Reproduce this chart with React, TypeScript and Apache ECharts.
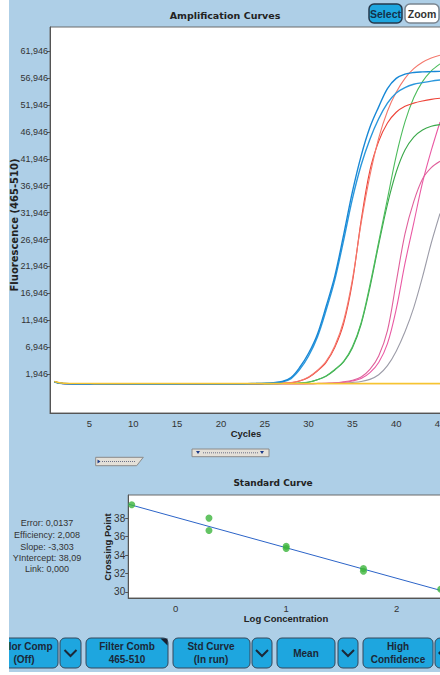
import React, { useEffect, useRef } from 'react';
import * as echarts from 'echarts';

// ---------- Data ----------
const cycles = [1, 2, 3, 4, 5, 6, 7, 8, 9, 10, 11, 12, 13, 14, 15, 16, 17, 18, 19, 20, 21, 22, 23, 24, 25, 26, 27, 28, 29, 30, 31, 32, 33, 34, 35, 36, 37, 38, 39, 40, 41, 42, 43, 44, 45];

const blueA = [480, 170, 150, 140, 130, 130, 120, 120, 120, 110, 110, 110, 110, 110, 110, 110, 110, 120, 120, 120, 130, 140, 160, 190, 240, 330, 560, 1300, 3200, 5800, 9300, 14500, 20200, 27800, 35800, 42500, 47800, 51600, 55000, 56900, 57700, 58000, 58100, 58150, 58200];
const blueB = [470, 160, 140, 130, 120, 120, 110, 110, 110, 100, 100, 100, 100, 100, 100, 110, 110, 110, 110, 120, 120, 130, 150, 170, 210, 290, 480, 1100, 2800, 5300, 8800, 13800, 19500, 26800, 34500, 40800, 45600, 49400, 52300, 54200, 55200, 55800, 56100, 56400, 56600];
const redA = [520, 180, 160, 150, 140, 140, 130, 130, 130, 120, 120, 120, 120, 120, 120, 120, 130, 130, 130, 130, 140, 140, 150, 160, 180, 210, 260, 350, 700, 1400, 2600, 4300, 7200, 11800, 19500, 30000, 38800, 45800, 50800, 54300, 56900, 58700, 59900, 60700, 61200];
const redB = [500, 170, 150, 140, 130, 130, 130, 120, 120, 120, 120, 110, 110, 110, 120, 120, 120, 120, 130, 130, 130, 140, 140, 150, 170, 200, 250, 330, 660, 1300, 2500, 4100, 6900, 11300, 19000, 30500, 39800, 45200, 48600, 50600, 51700, 52300, 52700, 53000, 53200];
const greenA = [510, 180, 150, 140, 140, 130, 130, 130, 120, 120, 120, 120, 120, 120, 120, 120, 120, 130, 130, 130, 130, 140, 140, 150, 160, 170, 185, 200, 260, 450, 900, 1600, 2800, 4300, 7000, 11500, 18500, 26500, 34500, 42500, 48800, 53300, 56300, 58300, 59600];
const greenB = [490, 170, 150, 140, 130, 130, 120, 120, 120, 120, 110, 110, 110, 110, 110, 120, 120, 120, 120, 120, 130, 130, 140, 140, 150, 160, 175, 190, 250, 430, 870, 1550, 2700, 4200, 6800, 11200, 18000, 26000, 33500, 39500, 43600, 46000, 47300, 48000, 48300];
const pinkA = [500, 170, 150, 140, 130, 130, 130, 120, 120, 120, 120, 120, 120, 120, 120, 120, 120, 120, 120, 130, 130, 130, 130, 140, 140, 140, 145, 150, 160, 180, 200, 240, 300, 500, 800, 1400, 2800, 5300, 10000, 19000, 28000, 34000, 38200, 40300, 41500];
const pinkB = [480, 160, 140, 130, 130, 120, 120, 120, 120, 110, 110, 110, 110, 110, 110, 110, 120, 120, 120, 120, 120, 120, 130, 130, 130, 135, 138, 140, 150, 160, 180, 210, 260, 400, 650, 1100, 2200, 4100, 7600, 14000, 22500, 30000, 37500, 43500, 48800];
const grayC = [470, 160, 140, 130, 120, 120, 120, 110, 110, 110, 110, 110, 110, 110, 110, 110, 110, 110, 120, 120, 120, 120, 120, 125, 130, 130, 135, 140, 150, 160, 170, 190, 220, 280, 380, 550, 950, 1800, 3500, 6200, 9800, 14300, 20000, 26300, 31800];
const orangeNeg = [520, 190, 170, 160, 150, 150, 150, 140, 140, 140, 140, 140, 140, 140, 140, 140, 140, 140, 140, 140, 140, 140, 140, 140, 140, 140, 140, 140, 140, 140, 140, 140, 140, 140, 140, 140, 140, 140, 140, 140, 140, 140, 140, 140, 140];
const yellowNeg = [560, 230, 210, 200, 200, 190, 190, 190, 190, 190, 190, 190, 190, 190, 190, 190, 190, 190, 190, 190, 190, 190, 190, 190, 190, 190, 190, 190, 190, 190, 190, 190, 190, 190, 190, 190, 190, 190, 190, 190, 190, 190, 190, 190, 190];

const ampYTickValues = [1946, 6946, 11946, 16946, 21946, 26946, 31946, 36946, 41946, 46946, 51946, 56946, 61946];
const ampXTickValues = [5, 10, 15, 20, 25, 30, 35, 40, 45];

const stdLogConc = [-0.398, 0.301, 0.301, 1.0, 1.0, 1.699, 1.699, 2.398];
const stdCrossingPoint = [39.45, 38.0, 36.65, 34.95, 34.7, 32.55, 32.25, 30.3];
const stdYTickValues = [30, 32, 34, 36, 38];
const stdXTickValues = [0, 1, 2];
const fitSlope = -3.303;
const fitIntercept = 38.09;
const statsLines = ['Error: 0,0137', 'Efficiency: 2,008', 'Slope: -3,303', 'YIntercept: 38,09', 'Link: 0,000'];

// ---------- Styles ----------
const SANS = "'Liberation Sans', Arial, sans-serif";
const PANEL = '#aecfe7';
const BTN = '#1ea6df';
const DARK = '#1b2838';

const AMP_X_MIN = 0.5, AMP_X_MAX = 46;
const AMP_Y_MIN = -5300, AMP_Y_MAX = 66450;
const STD_X_MIN = -0.43, STD_X_MAX = 2.516;
const STD_Y_MIN = 29.35, STD_Y_MAX = 40.5;

function buildOption() {
  const curves: [number[], string, number][] = [
    [orangeNeg, '#f2a23a', 1.2],
    [grayC, '#9c9ca8', 1.1],
    [pinkB, '#ea5aa4', 1.1],
    [pinkA, '#e0609c', 1.1],
    [greenB, '#3aa84a', 1.1],
    [greenA, '#4cbc5c', 1.1],
    [redB, '#ee4338', 1.1],
    [redA, '#f4786c', 1.1],
    [blueB, '#2a97dc', 1.4],
    [blueA, '#1888d6', 1.4],
    [yellowNeg, '#f6c530', 1.4],
  ];
  const ampSeries = curves.map(([vals, color, width], i) => ({
    type: 'line',
    xAxisIndex: 0,
    yAxisIndex: 0,
    data: cycles.map((c, k) => [c, vals[k]]),
    smooth: 0.35,
    symbol: 'none',
    showSymbol: false,
    silent: true,
    z: 2 + i * 0.01,
    lineStyle: { color, width },
  }));

  const minorTicks: number[] = [];
  for (let v = ampYTickValues[0] - 7000; v < AMP_Y_MAX; v += 1000) {
    if (!ampYTickValues.includes(v)) minorTicks.push(v);
  }

  const fitLine = [STD_X_MIN, STD_X_MAX].map((x) => [x, fitIntercept + fitSlope * x]);

  const txt = (x: number, y: number, text: string, font: string, extra: any = {}) => ({
    type: 'text',
    x,
    y,
    silent: true,
    ...extra,
    style: { text, font, fill: extra.fill || DARK, textAlign: 'center', textVerticalAlign: 'middle', lineHeight: extra.lineHeight || 12 },
  });

  const chevron = (x: number, w: number) => {
    const cx = x + w / 2, cy = 653;
    return [
      { type: 'rect', shape: { x, y: 638, width: w, height: 30, r: 5 }, style: { fill: BTN, stroke: '#34475a', lineWidth: 1 } },
      { type: 'polyline', shape: { points: [[cx - 6, cy - 3], [cx, cy + 3], [cx + 6, cy - 3]] }, style: { stroke: DARK, lineWidth: 2, fill: null } },
    ];
  };
  const button = (x: number, w: number, label: string, cx: number) => [
    { type: 'rect', shape: { x, y: 638, width: w, height: 30, r: 5 }, style: { fill: BTN, stroke: '#34475a', lineWidth: 1 } },
    { type: 'text', x: cx, y: 653, silent: true, style: { text: label, font: `bold 10px ${SANS}`, fill: DARK, textAlign: 'center', textVerticalAlign: 'middle', lineHeight: 12.6 } },
  ];

  const graphics: any[] = [
    // Titles
    txt(216, 15, 'Amplification Curves', "bold 9.5px 'DejaVu Sans'", { fill: '#222' }),
    txt(264, 483, 'Standard Curve', "bold 9px 'DejaVu Sans'", { fill: '#222' }),
    txt(5.5, 225, 'Fluorescence (465-510)', "bold 10px 'DejaVu Sans'", { rotation: Math.PI / 2, fill: '#222' }),
    txt(237, 433.5, 'Cycles', `bold 9.5px ${SANS}`, { fill: '#222' }),
    txt(277, 618.5, 'Log Concentration', `bold 9.5px ${SANS}`, { fill: '#222' }),
    txt(98.5, 547, 'Crossing Point', `bold 9.5px ${SANS}`, { rotation: Math.PI / 2, fill: '#222' }),
    // Stats
    ...statsLines.map((s, i) => txt(38, [523, 535, 547, 558, 569][i], s, `9px ${SANS}`, { fill: '#333' })),
    // Select / Zoom
    { type: 'rect', shape: { x: 360, y: 4, width: 33, height: 19, r: 5 }, style: { fill: BTN, stroke: '#24384c', lineWidth: 1.5 } },
    txt(376.5, 13.5, 'Select', `bold 10.5px ${SANS}`, { fill: '#13304a' }),
    { type: 'rect', shape: { x: 396, y: 4, width: 34, height: 19, r: 5 }, style: { fill: '#ffffff', stroke: '#7a8590', lineWidth: 1.5 } },
    txt(413, 13.5, 'Zoom', `bold 10.5px ${SANS}`, { fill: '#333' }),
    // Slider A
    { type: 'polygon', shape: { points: [[86.7, 457.3], [134.3, 457.3], [127.7, 465.7], [86.7, 465.7]] }, style: { fill: '#e4e0d8', stroke: '#8a8a8a', lineWidth: 1 } },
    { type: 'polygon', shape: { points: [[88.5, 459.5], [91.5, 461.5], [88.5, 463.5]] }, style: { fill: '#1a3a8a' } },
    { type: 'line', shape: { x1: 93, y1: 461.5, x2: 126, y2: 461.5 }, style: { stroke: '#6a7088', lineWidth: 1, lineDash: [1, 1] } },
    // Slider B
    { type: 'rect', shape: { x: 183, y: 449, width: 77, height: 7.7 }, style: { fill: '#e4e0d8', stroke: '#8a8a8a', lineWidth: 1 } },
    { type: 'polygon', shape: { points: [[187, 451], [191, 451], [189, 454]] }, style: { fill: '#1a3a8a' } },
    { type: 'polygon', shape: { points: [[251, 451], [255, 451], [253, 454]] }, style: { fill: '#1a3a8a' } },
    { type: 'line', shape: { x1: 194, y1: 452.8, x2: 249, y2: 452.8 }, style: { stroke: '#6a7088', lineWidth: 1, lineDash: [1, 1] } },
    // Bottom buttons
    ...button(-30, 79, 'Color Comp\n(Off)', 15),
    ...chevron(51, 21),
    ...button(77, 82, 'Filter Comb\n465-510', 118),
    { type: 'polygon', shape: { points: [[151.5, 638.5], [158.5, 638.5], [158.5, 645.5]] }, style: { fill: '#1b2030' } },
    ...button(164, 77, 'Std Curve\n(In run)', 202),
    ...chevron(243, 20),
    ...button(268, 58, 'Mean', 297),
    ...chevron(329, 20),
    ...button(354, 70, 'High\nConfidence', 389),
    { type: 'rect', shape: { x: 426, y: 638, width: 40, height: 30, r: 5 }, style: { fill: BTN, stroke: '#34475a', lineWidth: 1 } },
    { type: 'polygon', shape: { points: [[429, 653], [432, 650], [432, 656]] }, style: { fill: DARK } },
  ];

  const axisLineStyle = { color: '#555', width: 1 };
  const labelBase = { fontSize: 9.5, fontFamily: SANS, color: '#333' };

  return {
    animation: false,
    backgroundColor: PANEL,
    grid: [
      { left: 41, top: 27, width: 398.8, height: 386, show: true, backgroundColor: '#ffffff', borderColor: '#6a6a6a', borderWidth: 1, containLabel: false, outerBoundsMode: 'none' },
      { left: 119.2, top: 495, width: 325.5, height: 103, show: true, backgroundColor: '#ffffff', borderColor: '#6a6a6a', borderWidth: 1, containLabel: false, outerBoundsMode: 'none' },
    ],
    xAxis: [
      {
        gridIndex: 0, type: 'value', min: AMP_X_MIN, max: AMP_X_MAX,
        axisLine: { show: true, onZero: false, lineStyle: axisLineStyle },
        axisTick: { show: false },
        splitLine: { show: false },
        axisLabel: { ...labelBase, customValues: ampXTickValues, margin: 5 },
      },
      {
        gridIndex: 1, type: 'value', min: STD_X_MIN, max: STD_X_MAX,
        axisLine: { show: true, onZero: false, lineStyle: axisLineStyle },
        axisTick: { show: false },
        splitLine: { show: false },
        axisLabel: { ...labelBase, customValues: stdXTickValues, margin: 5 },
      },
    ],
    yAxis: [
      {
        gridIndex: 0, type: 'value', min: AMP_Y_MIN, max: AMP_Y_MAX,
        axisLine: { show: true, onZero: false, lineStyle: axisLineStyle },
        axisTick: { show: true, customValues: ampYTickValues, length: 3, lineStyle: axisLineStyle },
        splitLine: { show: false },
        axisLabel: {
          ...labelBase, fontSize: 9, customValues: ampYTickValues, margin: 2,
          formatter: (v: number) => v.toLocaleString('en-US'),
        },
      },
      {
        gridIndex: 0, type: 'value', min: AMP_Y_MIN, max: AMP_Y_MAX,
        axisLine: { show: false, onZero: false },
        axisTick: { show: true, customValues: minorTicks, length: 2, lineStyle: { color: '#777', width: 1 } },
        splitLine: { show: false },
        axisLabel: { show: false },
      },
      {
        gridIndex: 1, type: 'value', min: STD_Y_MIN, max: STD_Y_MAX,
        axisLine: { show: true, onZero: false, lineStyle: axisLineStyle },
        axisTick: { show: true, customValues: stdYTickValues, length: 3, lineStyle: axisLineStyle },
        splitLine: { show: false },
        axisLabel: { ...labelBase, fontSize: 10, customValues: stdYTickValues, margin: 3 },
      },
    ],
    series: [
      ...ampSeries,
      {
        type: 'line', xAxisIndex: 1, yAxisIndex: 2, data: fitLine, symbol: 'none', silent: true,
        lineStyle: { color: '#2c64c8', width: 1 }, z: 3,
      },
      {
        type: 'scatter', xAxisIndex: 1, yAxisIndex: 2,
        data: stdLogConc.map((x, i) => [x, stdCrossingPoint[i]]),
        symbol: 'circle', symbolSize: 7, silent: true, clip: false,
        itemStyle: { color: '#3db53d' }, z: 4,
      },
    ],
    graphic: graphics,
  };
}

export default function App() {
  const ref = useRef<HTMLDivElement>(null);
  useEffect(() => {
    if (!ref.current) return;
    const chart = echarts.init(ref.current, null, { renderer: 'svg' });
    chart.setOption(buildOption() as any);
    return () => chart.dispose();
  }, []);
  return (
    <div style={{ position: 'fixed', left: 0, top: 0, width: 440, height: 675, background: '#ffffff', overflow: 'hidden' }}>
      <div ref={ref} style={{ position: 'absolute', left: 9, top: 0, width: 431, height: 672 }} />
    </div>
  );
}
